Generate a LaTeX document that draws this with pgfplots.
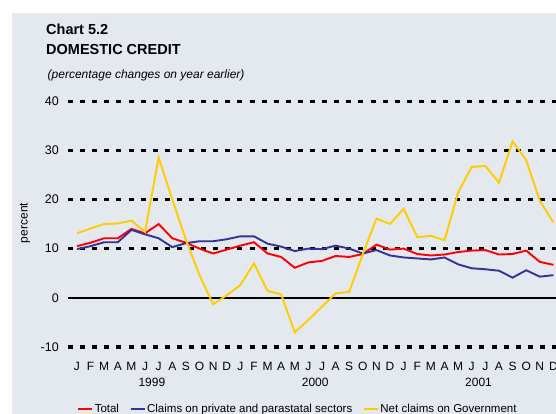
\documentclass[border=0pt]{standalone}
\usepackage{pgfplots}
\pgfplotsset{compat=1.18}
\usepackage{fontspec}
\setmainfont{Liberation Sans}
\definecolor{bg}{HTML}{E4E8EF}
\definecolor{cred}{HTML}{FF0000}
\definecolor{cblue}{HTML}{333399}
\definecolor{cyellow}{HTML}{FFCC00}

\pgfplotstableread{
x total claims net
0 10.5 9.9 13.1
1 11.2 10.5 14.1
2 12.1 11.3 15.0
3 12.1 11.3 15.1
4 14.0 13.8 15.7
5 13.1 12.9 13.4
6 15.0 12.1 28.5
7 12.1 10.3 20.0
8 11.2 11.1 11.8
9 10.0 11.5 4.6
10 9.0 11.5 -1.3
11 9.8 11.9 0.5
12 10.6 12.5 2.6
13 11.3 12.5 7.0
14 9.0 11.0 1.4
15 8.3 10.4 0.7
16 6.1 9.5 -7.0
17 7.2 10.0 -4.5
18 7.5 9.9 -1.8
19 8.5 10.6 0.9
20 8.3 10.0 1.2
21 8.9 9.0 8.9
22 10.8 9.7 16.1
23 9.8 8.6 15.0
24 10.0 8.2 18.1
25 8.9 8.0 12.3
26 8.6 7.8 12.6
27 8.8 8.2 11.7
28 9.3 6.8 21.4
29 9.6 6.0 26.6
30 9.7 5.8 26.8
31 8.8 5.5 23.4
32 8.9 4.1 31.8
33 9.6 5.6 28.0
34 7.3 4.3 19.7
35 6.7 4.6 15.3
}\datatable

\begin{document}
\begin{tikzpicture}
\useasboundingbox (0,0) rectangle (556bp,414bp);
\fill[bg] (12bp,0) rectangle (556bp,401bp);
\node[anchor=base west, inner sep=0pt, font=\fontsize{14.5bp}{17bp}\selectfont\bfseries] at (46bp,379.7bp) {Chart 5.2};
\node[anchor=base west, inner sep=0pt, font=\fontsize{14.5bp}{17bp}\selectfont\bfseries] at (46bp,359.7bp) {DOMESTIC CREDIT};
\node[anchor=base west, inner sep=0pt, font=\fontsize{12bp}{14bp}\selectfont\itshape] at (47.5bp,335.7bp) {(percentage changes on year earlier)};
\node[rotate=90, inner sep=0pt, font=\fontsize{12bp}{14bp}\selectfont] at (25bp,191bp) {percent};
\begin{axis}[
  at={(68bp,67bp)}, anchor=south west,
  width=488bp, height=246bp, scale only axis,
  xmin=-0.66, xmax=35.19, ymin=-10, ymax=40,
  clip=false,
  axis line style={draw=none},
  major tick style={draw=none}, minor tick style={draw=none},
  ytick={-10,10,20,30,40},
  ymajorgrids,
  grid style={black, line width=3bp, dash pattern=on 5bp off 7.1bp},
  extra y ticks={0},
  extra y tick style={grid style={solid, black, line width=1.4bp, dash pattern=}},
  /pgf/number format/assume math mode=true,
  yticklabel style={anchor=east, inner sep=0pt, xshift=-9bp, font=\fontsize{12.5bp}{14bp}\selectfont},
  xtick={0,...,35},
  xticklabels={J,F,M,A,M,J,J,A,S,O,N,D,J,F,M,A,M,J,J,A,S,O,N,D,J,F,M,A,M,J,J,A,S,O,N,D},
  xticklabel style={anchor=base, inner sep=0pt, yshift=-23bp, font=\fontsize{12bp}{14bp}\selectfont},
  legend columns=3,
  legend style={at={(0.4707,-0.2535)}, anchor=center, draw=none, fill=none,
    font=\fontsize{11.5bp}{13bp}\selectfont,
    nodes={inner sep=1.6bp},
    /tikz/every even column/.append style={column sep=9bp}},
  legend image code/.code={\draw[#1] (0bp,0bp) -- (14bp,0bp);},
]
\addplot[cred, line width=1.9bp] table[x=x, y=total] {\datatable};
\addlegendentry{Total}
\addplot[cblue, line width=1.9bp] table[x=x, y=claims] {\datatable};
\addlegendentry{Claims on private and parastatal sectors}
\addplot[cyellow, line width=1.9bp] table[x=x, y=net] {\datatable};
\addlegendentry{Net claims on Government}
\node[anchor=base, inner sep=0pt, yshift=-39bp, font=\fontsize{12bp}{14bp}\selectfont] at (axis cs:5.5,-10) {1999};
\node[anchor=base, inner sep=0pt, yshift=-39bp, font=\fontsize{12bp}{14bp}\selectfont] at (axis cs:17.5,-10) {2000};
\node[anchor=base, inner sep=0pt, yshift=-39bp, font=\fontsize{12bp}{14bp}\selectfont] at (axis cs:29.5,-10) {2001};
\end{axis}
\end{tikzpicture}
\end{document}
